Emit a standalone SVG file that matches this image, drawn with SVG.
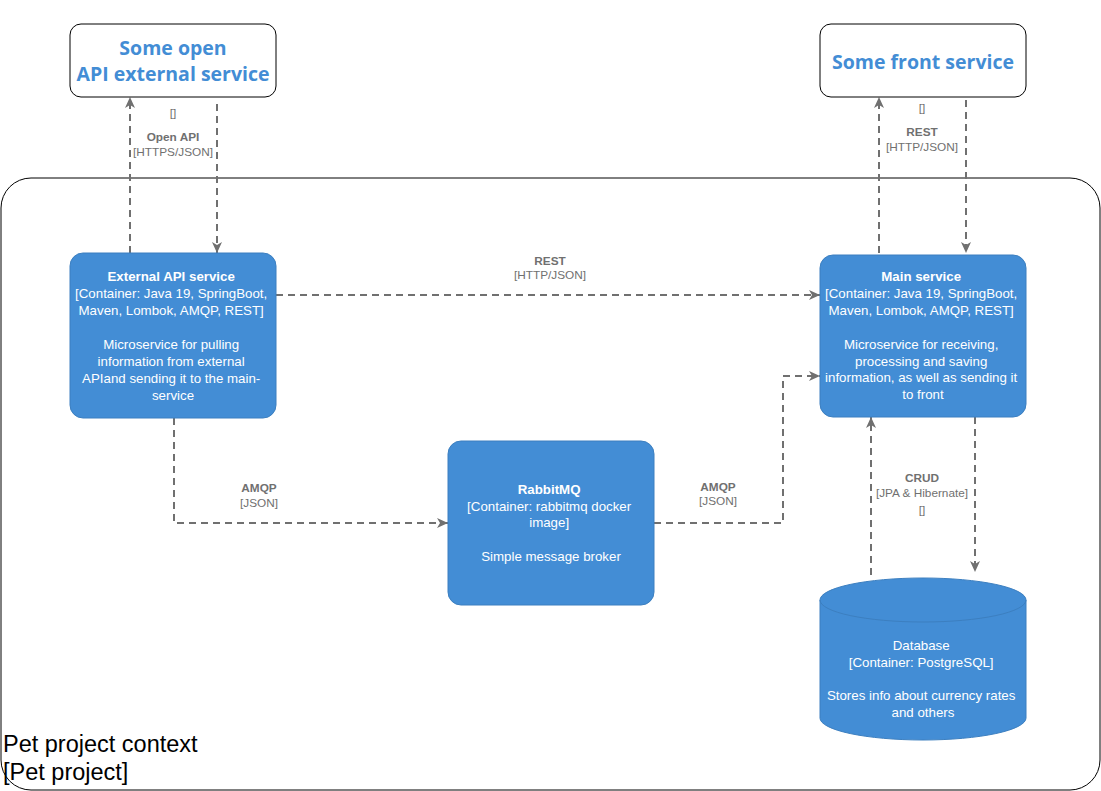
<svg xmlns="http://www.w3.org/2000/svg" width="1101" height="791" viewBox="0 0 1101 791">
  <style>
    .ext { fill: #ffffff; stroke: #000000; stroke-width: 1; }
    .ext-title { font-family: "Open Sans", "Noto Sans", sans-serif; font-weight: bold; font-size: 19.5px; fill: #438DD5; text-anchor: middle; }
    .box { fill: #438DD5; stroke: #3C7FC0; stroke-width: 1; }
    .nt { font-family: "Liberation Sans", Arial, sans-serif; font-size: 13.3px; fill: #ffffff; text-anchor: middle; }
    .nt .b { font-weight: bold; }
    .conn { fill: none; stroke: #707070; stroke-width: 2; stroke-dasharray: 7 5; }
    .lbl { font-family: "Liberation Sans", Arial, sans-serif; font-size: 11.8px; fill: #707070; text-anchor: middle; }
    .lbl .b { font-weight: bold; }
    .boundary { fill: none; stroke: #000000; stroke-width: 1; }
    .btxt { font-family: "Liberation Sans", Arial, sans-serif; font-size: 23.5px; fill: #000000; }
  </style>
  <defs>
    <marker id="arrow" markerUnits="userSpaceOnUse" markerWidth="12" markerHeight="12" viewBox="0 0 12 12" refX="11" refY="6" orient="auto">
      <path d="M0,1 L11,6 L0,11 L3,6 z" fill="#707070"/>
    </marker>
  </defs>

  <g id="boundary">
    <rect class="boundary" x="1" y="178" width="1099" height="612" rx="30" ry="30"/>
    <text class="btxt" x="3" y="752">Pet project context</text>
    <text class="btxt" x="3" y="780">[Pet project]</text>
  </g>

  <g id="connectors">
    <path class="conn" d="M130,253 V97" marker-end="url(#arrow)"/>
    <path class="conn" d="M217,104 V253" marker-end="url(#arrow)"/>
    <path class="conn" d="M879,253 V97" marker-end="url(#arrow)"/>
    <path class="conn" d="M966,100 V253" marker-end="url(#arrow)"/>
    <path class="conn" d="M276,295 H820" marker-end="url(#arrow)"/>
    <path class="conn" d="M174,418 V523 H448" marker-end="url(#arrow)"/>
    <path class="conn" d="M654,523 H783 V376 H820" marker-end="url(#arrow)"/>
    <path class="conn" d="M871,575 V417" marker-end="url(#arrow)"/>
    <path class="conn" d="M975,417 V572" marker-end="url(#arrow)"/>

    <g class="lbl">
      <text x="173" y="117">[]</text>
      <text x="173" y="141" class="b">Open API</text>
      <text x="173" y="156">[HTTPS/JSON]</text>

      <text x="922" y="112">[]</text>
      <text x="922" y="136" class="b">REST</text>
      <text x="922" y="151">[HTTP/JSON]</text>

      <text x="550" y="265" class="b">REST</text>
      <text x="550" y="279">[HTTP/JSON]</text>

      <text x="259" y="492" class="b">AMQP</text>
      <text x="259" y="507">[JSON]</text>

      <text x="718" y="491" class="b">AMQP</text>
      <text x="718" y="505">[JSON]</text>

      <text x="922" y="482" class="b">CRUD</text>
      <text x="922" y="497">[JPA &amp; Hibernate]</text>
      <text x="922" y="514">[]</text>
    </g>
  </g>

  <g id="open-api-external">
    <rect class="ext" x="70" y="24" width="206" height="73" rx="11" ry="11"/>
    <text class="ext-title" x="173" y="55">Some open</text>
    <text class="ext-title" x="173" y="81">API external service</text>
  </g>

  <g id="front-service">
    <rect class="ext" x="820" y="24" width="206" height="73" rx="11" ry="11"/>
    <text class="ext-title" x="923" y="69">Some front service</text>
  </g>

  <g id="external-api-service">
    <rect class="box" x="70" y="253" width="206" height="165" rx="13" ry="13"/>
    <text class="nt">
      <tspan class="b" x="173" y="281">External API service</tspan>
      <tspan x="173" y="298">[Container: Java 19, SpringBoot,</tspan>
      <tspan x="173" y="315">Maven, Lombok, AMQP, REST]</tspan>
      <tspan x="173" y="349">Microservice for pulling</tspan>
      <tspan x="173" y="366">information from external</tspan>
      <tspan x="173" y="383">APIand sending it to the main-</tspan>
      <tspan x="173" y="400">service</tspan>
    </text>
  </g>

  <g id="main-service">
    <rect class="box" x="820" y="255" width="206" height="162" rx="13" ry="13"/>
    <text class="nt">
      <tspan class="b" x="923" y="281">Main service</tspan>
      <tspan x="923" y="298">[Container: Java 19, SpringBoot,</tspan>
      <tspan x="923" y="315">Maven, Lombok, AMQP, REST]</tspan>
      <tspan x="923" y="349">Microservice for receiving,</tspan>
      <tspan x="923" y="366">processing and saving</tspan>
      <tspan x="923" y="382">information, as well as sending it</tspan>
      <tspan x="923" y="399">to front</tspan>
    </text>
  </g>

  <g id="rabbitmq">
    <rect class="box" x="448" y="441" width="206" height="164" rx="13" ry="13"/>
    <text class="nt">
      <tspan class="b" x="551" y="494">RabbitMQ</tspan>
      <tspan x="551" y="511">[Container: rabbitmq docker</tspan>
      <tspan x="551" y="527">image]</tspan>
      <tspan x="551" y="561">Simple message broker</tspan>
    </text>
  </g>

  <g id="database">
    <path class="box" d="M820,600 A103,22 0 0 1 1026,600 V718 A103,22 0 0 1 820,718 Z"/>
    <path d="M820,600 A103,22 0 0 0 1026,600" fill="none" stroke="#3C7FC0" stroke-width="1"/>
    <text class="nt">
      <tspan x="923" y="650">Database</tspan>
      <tspan x="923" y="667">[Container: PostgreSQL]</tspan>
      <tspan x="923" y="700">Stores info about currency rates</tspan>
      <tspan x="923" y="717">and others</tspan>
    </text>
  </g>
</svg>
